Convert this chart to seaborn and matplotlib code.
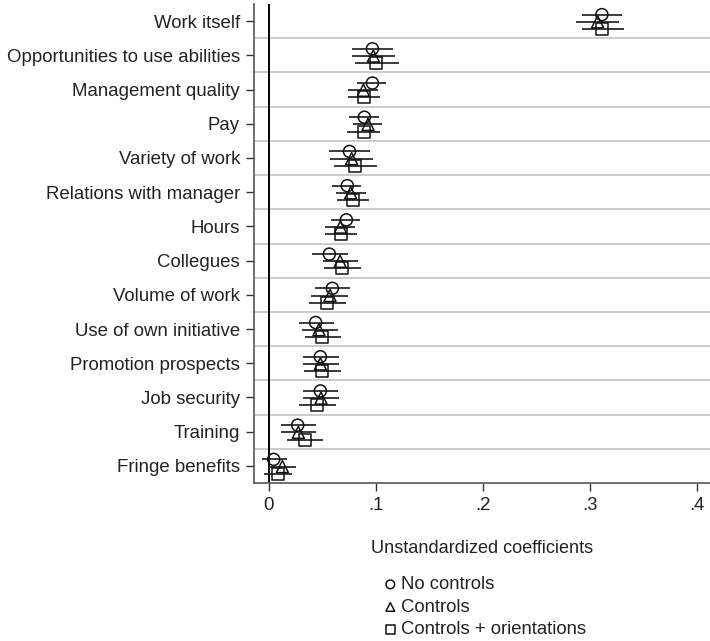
import matplotlib
matplotlib.use("Agg")
import matplotlib.pyplot as plt
import seaborn as sns
import numpy as np
import pandas as pd

categories = ["Work itself", "Opportunities to use abilities", "Management quality", "Pay",
              "Variety of work", "Relations with manager", "Hours", "Collegues",
              "Volume of work", "Use of own initiative", "Promotion prospects",
              "Job security", "Training", "Fringe benefits"]

series = ["No controls", "Controls", "Controls + orientations"]

# point estimates
est_none = [0.311, 0.0966, 0.0966, 0.0891, 0.0752, 0.0732, 0.0723, 0.0564, 0.0592, 0.0436, 0.048, 0.048, 0.0268, 0.0044]
est_ctrl = [0.307, 0.0975, 0.0882, 0.0925, 0.0772, 0.0763, 0.0667, 0.0664, 0.057, 0.0467, 0.048, 0.0486, 0.0274, 0.0125]
est_orie = [0.311, 0.1003, 0.0885, 0.0885, 0.0807, 0.0788, 0.0676, 0.0685, 0.0545, 0.0498, 0.0492, 0.0452, 0.0333, 0.0081]
# confidence intervals
lo_none = [0.292, 0.0773, 0.0826, 0.075, 0.056, 0.0589, 0.058, 0.0405, 0.043, 0.0277, 0.0321, 0.0315, 0.0109, -0.0068]
hi_none = [0.330, 0.1156, 0.1093, 0.1025, 0.0944, 0.086, 0.085, 0.0735, 0.0757, 0.0604, 0.0651, 0.0648, 0.0436, 0.0165]
lo_ctrl = [0.287, 0.0776, 0.0738, 0.0785, 0.057, 0.0626, 0.0526, 0.0502, 0.0396, 0.0305, 0.0321, 0.032, 0.0109, 0.0]
hi_ctrl = [0.327, 0.1178, 0.1019, 0.106, 0.097, 0.0903, 0.0807, 0.0835, 0.0735, 0.0642, 0.0654, 0.0657, 0.0442, 0.025]
lo_orie = [0.292, 0.0807, 0.0735, 0.0732, 0.0607, 0.0636, 0.0526, 0.0514, 0.0377, 0.0333, 0.033, 0.0283, 0.0168, -0.0047]
hi_orie = [0.332, 0.1212, 0.104, 0.1034, 0.101, 0.0938, 0.0826, 0.086, 0.072, 0.0676, 0.067, 0.0629, 0.0508, 0.0212]

xticks = [0, 0.1, 0.2, 0.3, 0.4]
xticklabels = ["0", ".1", ".2", ".3", ".4"]

sns.set_theme(style="white")
plt.rcParams["font.family"] = ["Liberation Sans", "DejaVu Sans"]

fig = plt.figure(figsize=(7.1, 6.41), dpi=100)
ax = fig.add_axes([254 / 710, 1 - 483 / 641, 1 - 254 / 710, (483 - 4) / 641])

offsets = [-0.19, 0.02, 0.23]
markers = ["o", "^", "s"]
est_all = [est_none, est_ctrl, est_orie]
lo_all = [lo_none, lo_ctrl, lo_orie]
hi_all = [hi_none, hi_ctrl, hi_orie]

idx = np.arange(len(categories))
# separators
for k in range(len(categories) - 1):
    ax.axhline(k + 0.5, color="#c4c4c4", lw=1.2, zorder=0)
ax.axvline(0, color="black", lw=1.4, zorder=1)

for s, off, m, est, lo, hi in zip(series, offsets, markers, est_all, lo_all, hi_all):
    y = idx + off
    ax.hlines(y, lo, hi, color="#2b2b2b", lw=1.3, zorder=2)
    df = pd.DataFrame({"est": est, "y": y})
    sns.scatterplot(data=df, x="est", y="y", marker=m, s=75, facecolor="none",
                    edgecolor="#111111", linewidth=1.1, ax=ax, label=s, zorder=3)

ax.set_ylim(len(categories) - 0.5, -0.5)
ax.set_xlim(-0.014, 0.412)
ax.set_yticks(idx)
ax.set_yticklabels(categories, fontsize=13.4, color="#222222")
ax.set_xticks(xticks)
ax.set_xticklabels(xticklabels, fontsize=13.4, color="#222222")
ax.tick_params(axis="both", direction="out", length=6, width=1, color="#333333",
               bottom=True, left=True, pad=4)
ax.set_ylabel("")
ax.set_xlabel("Unstandardized coefficients", fontsize=13.1, color="#222222", labelpad=19)

for sp in ["top", "right"]:
    ax.spines[sp].set_visible(False)
for sp in ["left", "bottom"]:
    ax.spines[sp].set_color("#555555")
    ax.spines[sp].set_linewidth(1.2)

leg = ax.legend(loc="upper left", bbox_to_anchor=(370 / 710, 1 - 567 / 641),
                bbox_transform=fig.transFigure, frameon=False, fontsize=13.3,
                handletextpad=0.0, labelspacing=0.3, borderpad=0, handlelength=1.2,
                markerscale=0.72)
for t in leg.get_texts():
    t.set_color("#222222")

fig.savefig("out.png", dpi=100)
